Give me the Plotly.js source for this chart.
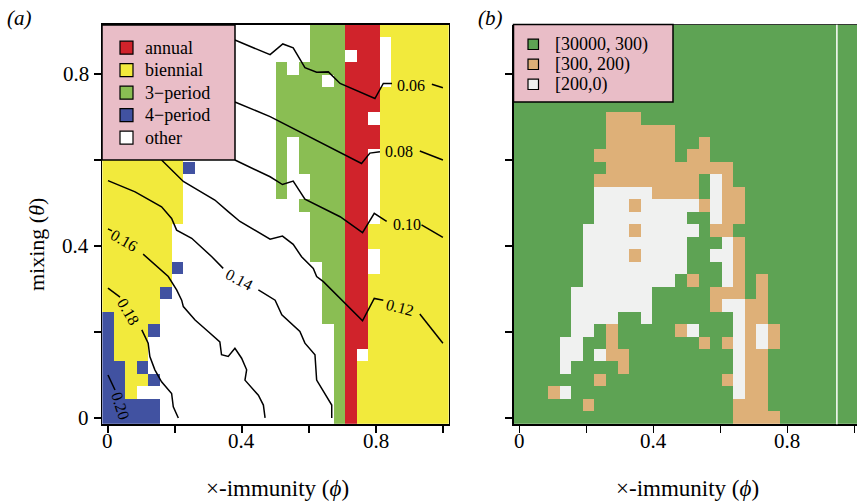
<!DOCTYPE html>
<html><head><meta charset="utf-8">
<script src="https://cdn.plot.ly/plotly-3.0.1.min.js"></script>
<style>body{margin:0;background:#fff}#chart{width:857px;height:502px}</style>
</head><body><div id="chart"></div>
<script>
// grid coordinates
const phi = [0,0.0345,0.0690,0.1034,0.1379,0.1724,0.2069,0.2414,0.2759,0.3103,0.3448,0.3793,0.4138,0.4483,0.4828,0.5172,0.5517,0.5862,0.6207,0.6552,0.6897,0.7241,0.7586,0.7931,0.8276,0.8621,0.8966,0.9310,0.9655,1];
const theta = [0,0.0290,0.0581,0.0871,0.1161,0.1452,0.1742,0.2032,0.2323,0.2613,0.2903,0.3194,0.3484,0.3774,0.4065,0.4355,0.4645,0.4935,0.5226,0.5516,0.5806,0.6097,0.6387,0.6677,0.6968,0.7258,0.7548,0.7839,0.8129,0.8419,0.8710,0.9];

// panel (a): dynamics class, rows top (theta=0.9) to bottom (theta=0), run-length coded
const classNamesA = ['annual','biennial','3\u2212period','4\u2212period','other'];
const classCodesA = ['r','y','g','b','w'];
const classColorsA = ['#D0232B','#F2EA3C','#8ABE53','#4152A1','#FFFFFF'];
const gridA = [
 "w18 g3 r3 y6",
 "w18 g3 r3 w1 y5",
 "w18 g3 w1 r2 w1 y5",
 "w15 g1 w1 g4 r3 w1 y5",
 "w15 g4 w1 g1 r3 w1 y5",
 "w15 g6 r3 y6",
 "w15 g6 r3 y6",
 "w15 g6 r2 w1 y6",
 "w15 g6 r3 y6",
 "w15 g1 w1 g4 r3 y6",
 "y7 w8 g1 w1 g4 r2 w1 y6",
 "y7 b1 w7 g1 w1 g4 r2 w1 y6",
 "y7 w8 g1 w2 g3 r2 w1 y6",
 "y7 w8 g1 w2 g3 r2 w1 y6",
 "y7 w10 g4 r2 w1 y6",
 "y7 w11 g3 r2 w1 y6",
 "y6 w12 g3 r2 y7",
 "y6 w12 g3 r2 y7",
 "y6 w12 g3 r2 w1 y6",
 "y6 b1 w12 g2 r2 w1 y6",
 "y6 w13 g2 r2 y7",
 "y5 b1 w13 g2 r2 y7",
 "y5 w14 g2 r2 y7",
 "b1 y4 w14 g2 r2 y7",
 "b1 y3 b1 w15 g1 r2 y7",
 "b1 y3 w16 g1 r2 y7",
 "b1 y3 w16 g1 r1 w1 y7",
 "b2 y1 b1 w16 g1 r1 y8",
 "b2 y2 b1 w15 g1 r1 y8",
 "b2 y1 w17 g1 r1 y8",
 "b5 w15 g1 r1 y8",
 "b5 w15 g1 r1 y8"
];

// panel (b): outbreak size class
const classNamesB = ['[30000, 300)','[300, 200)','[200,0)'];
const classCodesB = ['G','T','W'];
const classColorsB = ['#5EA354','#DEB078','#F0F1F0'];
const gridB = [
 "G30","G30","G30","G30","G30","G30","G30",
 "G8 T3 G19",
 "G8 T6 G16",
 "G8 T6 G2 T1 G13",
 "G7 T7 G1 T2 G13",
 "G8 T11 G11",
 "G7 T9 G1 W1 T1 G11",
 "G7 W5 T4 G1 W1 T2 G10",
 "G7 W3 T1 W5 T1 W1 T2 G10",
 "G7 W8 G2 W1 T2 G10",
 "G6 W4 T1 W5 G1 T2 G11",
 "G6 W9 G3 W1 T1 G10",
 "G6 W4 T1 W4 G2 W2 T1 G10",
 "G6 W9 G3 W1 T1 G10",
 "G6 W8 G1 T1 G2 W1 T1 G1 T1 G8",
 "G5 W7 G5 T3 G1 T1 G8",
 "G5 W7 G5 T1 W2 T2 G8",
 "G5 W4 G2 W1 G7 W1 T2 G8",
 "G5 W2 G1 T1 G5 T1 W1 G3 W1 T1 W1 T1 G7",
 "G4 W2 G2 T1 G7 T1 G1 T1 W1 T1 W1 T1 G7",
 "G4 W2 G1 W1 T2 G9 W1 T2 G8",
 "G4 W1 G4 T1 G9 W1 T2 G8",
 "G7 T1 G10 T1 W1 T2 G8",
 "G3 T1 W1 G14 W1 T2 G8",
 "G6 T1 G12 T3 G8",
 "G19 T4 G7"
];

// contour lines of panel (a) (null = gap for label)
const contourLevels = ['0.06','0.08','0.10','0.12','0.14','0.16','0.18','0.20'];
const contourPhi = [
 [0.379,0.484,0.522,0.553,0.588,0.623,0.658,0.693,0.797,0.822,0.848,null,0.967,1.0],
 [0.379,0.484,0.757,0.782,0.812,null,0.931,1.0],
 [0.379,0.484,0.521,0.553,0.588,0.693,0.760,0.795,0.832,null,0.936,1.0],
 [0.160,0.225,0.260,0.319,0.359,0.394,0.484,0.521,0.553,0.578,0.613,0.623,0.643,0.760,0.795,0.822,null,0.931,1.0],
 [0,0.081,0.160,0.190,0.205,0.250,0.310,0.344,null,0.449,0.499,0.519,0.573,0.588,0.618,0.623,0.668,0.668],
 [0,0.012,null,0.105,0.180,0.205,0.220,0.225,0.260,0.299,0.334,0.339,0.359,0.379,0.399,0.414,0.409,0.449,0.464,0.469],
 [0,0.036,null,0.101,0.120,0.125,0.140,0.160,0.190,0.195,0.210],
 [0,0.021]
];
const contourTheta = [
 [0.879,0.845,0.870,0.861,0.815,0.804,0.805,0.778,0.743,0.778,0.778,null,0.776,0.768],
 [0.735,0.701,0.592,0.616,0.619,null,0.621,0.600],
 [0.600,0.561,0.543,0.551,0.509,0.468,0.431,0.476,0.457,null,0.449,0.420],
 [0.600,0.550,0.534,0.507,0.480,0.457,0.416,0.423,0.404,0.375,0.348,0.329,0.317,0.226,0.278,0.274,null,0.242,0.174],
 [0.552,0.526,0.491,0.464,0.437,0.418,0.375,0.348,null,0.298,0.274,0.240,0.201,0.174,0.147,0.088,0.030,0],
 [0.440,0.435,null,0.381,0.329,0.298,0.274,0.259,0.228,0.201,0.177,0.147,0.143,0.162,0.139,0.112,0.088,0.053,0.030,0],
 [0.302,0.281,null,0.205,0.174,0.143,0.112,0.084,0.057,0.026,0],
 [0.100,0.065]
];
const labelPhi = [0.904,0.869,0.893,0.872,0.391,0.048,0.060,0.036];
const labelTheta = [0.774,0.619,0.451,0.257,0.321,0.412,0.247,0.028];
const labelAngle = [0,0,0,15,28,30,60,72];

const xTickVals = [0,0.2,0.4,0.6,0.8,1];
const xTickText = ['0','','0.4','','0.8',''];
const yTickVals = [0,0.2,0.4,0.6,0.8];
const yTickText = ['0','','0.4','','0.8'];

// ---------- build ----------
function decode(rows, codes){
  return rows.slice().reverse().map(r => {
    const out = [];
    r.split(' ').forEach(t => { const c = t[0], n = parseInt(t.slice(1)); for(let i=0;i<n;i++) out.push(codes.indexOf(c)); });
    return out;
  });
}
function scale(colors){
  const n = colors.length, s = [];
  colors.forEach((c,i)=>{ s.push([i/n,c]); s.push([(i+1)/n,c]); });
  return s;
}
const W = 857, H = 502;
const X = p => p/W, Y = p => 1 - p/H;
const SERIF = 'Liberation Serif, Times New Roman, serif';

const traces = [
 {type:'heatmap', x:phi, y:theta, z:decode(gridA,classCodesA), colorscale:scale(classColorsA), zmin:-0.5, zmax:classColorsA.length-0.5, showscale:false, hoverinfo:'skip', xaxis:'x', yaxis:'y'},
 {type:'heatmap', x:phi, y:theta, z:decode(gridB,classCodesB), colorscale:scale(classColorsB), zmin:-0.5, zmax:classColorsB.length-0.5, showscale:false, hoverinfo:'skip', xaxis:'x2', yaxis:'y2'}
];
contourLevels.forEach((lv,i)=>{
  traces.push({type:'scatter', mode:'lines', x:contourPhi[i], y:contourTheta[i], line:{color:'#000', width:1.5}, connectgaps:false, hoverinfo:'skip', xaxis:'x', yaxis:'y'});
});

const half = (phi[1]-phi[0])/2, halfT = (theta[1]-theta[0])/2;
const yDom = [Y(424.2), Y(24.8)];
const axBase = {ticks:'outside', ticklen:7, tickwidth:1.2, tickcolor:'#000', showgrid:false, zeroline:false,
  showline:true, linecolor:'#000', linewidth:1.5, showticklabels:false};

const shapes = [], annotations = [];
function ann(o){ annotations.push(Object.assign({showarrow:false, xanchor:'center', yanchor:'middle'}, o)); }
const TF = {family:SERIF, size:21, color:'#000'};
// tick labels
xTickVals.forEach((v,i)=>{ if(xTickText[i]){
  ann({xref:'x', yref:'paper', x:v, y:Y(441), text:xTickText[i], font:TF});
  ann({xref:'x2', yref:'paper', x:v, y:Y(441), text:xTickText[i], font:TF});
}});
yTickVals.forEach((v,i)=>{ if(yTickText[i]){
  ann({xref:'paper', yref:'y', x:X(91), y:v, text:yTickText[i], xanchor:'right', font:TF});
}});
// legend (a)
shapes.push({type:'rect', xref:'paper', yref:'paper', x0:X(102), x1:X(235), y0:Y(160), y1:Y(25), fillcolor:'#E9BDC7', line:{color:'#000', width:1.5}, layer:'above'});
classNamesA.forEach((nm,i)=>{
  const cy = 47.7 + i*22.5;
  shapes.push({type:'rect', xref:'paper', yref:'paper', x0:X(120), x1:X(133), y0:Y(cy+6.5), y1:Y(cy-6.5), fillcolor:classColorsA[i], line:{color:'#000', width:1.2}, layer:'above'});
  ann({xref:'paper', yref:'paper', x:X(143), y:Y(cy), text:nm, xanchor:'left', font:{family:SERIF, size:18, color:'#000'}});
});
// legend (b)
shapes.push({type:'rect', xref:'paper', yref:'paper', x0:X(513.5), x1:X(673), y0:Y(102), y1:Y(24.5), fillcolor:'#E9BDC7', line:{color:'#000', width:1.5}, layer:'above'});
classNamesB.forEach((nm,i)=>{
  const cy = 44.3 + i*20;
  shapes.push({type:'rect', xref:'paper', yref:'paper', x0:X(528), x1:X(538.5), y0:Y(cy+5.2), y1:Y(cy-5.2), fillcolor:classColorsB[i], line:{color:'#000', width:1.2}, layer:'above'});
  ann({xref:'paper', yref:'paper', x:X(553), y:Y(cy), text:nm, xanchor:'left', font:{family:SERIF, size:18, color:'#000'}});
});
// white seam in panel (b)
shapes.push({type:'line', xref:'x2', yref:'paper', x0:(phi[27]+phi[28])/2, x1:(phi[27]+phi[28])/2, y0:yDom[0], y1:yDom[1], line:{color:'#fff', width:1.5}, layer:'above'});
// top border of panel (b)
shapes.push({type:'line', xref:'paper', yref:'paper', x0:X(513.5), x1:1, y0:yDom[1], y1:yDom[1], line:{color:'#333', width:1.5}, layer:'below'});

// contour labels
contourLevels.forEach((lv,i)=>{
  ann({xref:'x', yref:'y', x:labelPhi[i], y:labelTheta[i], text:lv, textangle:labelAngle[i], font:{family:SERIF, size:16, color:'#000'}});
});
// titles
ann({xref:'paper', yref:'paper', x:X(277), y:Y(488), text:'\u00d7-immunity (<i>\u03d5</i>)', font:{family:SERIF, size:23, color:'#000'}});
ann({xref:'paper', yref:'paper', x:X(687), y:Y(488), text:'\u00d7-immunity (<i>\u03d5</i>)', font:{family:SERIF, size:23, color:'#000'}});
ann({xref:'paper', yref:'paper', x:X(36), y:Y(245), text:'mixing (<i>\u03b8</i>)', textangle:-90, font:{family:SERIF, size:22, color:'#000'}});
ann({xref:'paper', yref:'paper', x:X(19), y:Y(18), text:'<i>(a)</i>', font:{family:SERIF, size:21, color:'#000'}});
ann({xref:'paper', yref:'paper', x:X(490), y:Y(18), text:'<i>(b)</i>', font:{family:SERIF, size:21, color:'#000'}});

const layout = {
  width:W, height:H, margin:{l:0,r:0,t:0,b:0}, paper_bgcolor:'#fff', plot_bgcolor:'#fff', showlegend:false,
  font:{family:SERIF, color:'#000'},
  xaxis:Object.assign({}, axBase, {domain:[X(102.2), X(448.7)], range:[phi[0]-half, phi[29]+half], tickvals:xTickVals, mirror:true, anchor:'y'}),
  yaxis:Object.assign({}, axBase, {domain:yDom, range:[theta[0]-halfT, theta[31]+halfT], tickvals:yTickVals, mirror:true, anchor:'x'}),
  xaxis2:Object.assign({}, axBase, {domain:[X(513.5), 1], range:[phi[0]-half, phi[0]-half+(857-513.5)/(346.5/(1+2*half))], tickvals:xTickVals, anchor:'y2'}),
  yaxis2:Object.assign({}, axBase, {domain:yDom, range:[theta[0]-halfT, theta[31]+halfT], tickvals:yTickVals, anchor:'x2'}),
  shapes:shapes, annotations:annotations
};
Plotly.newPlot('chart', traces, layout, {staticPlot:true});
</script>
</body></html>
